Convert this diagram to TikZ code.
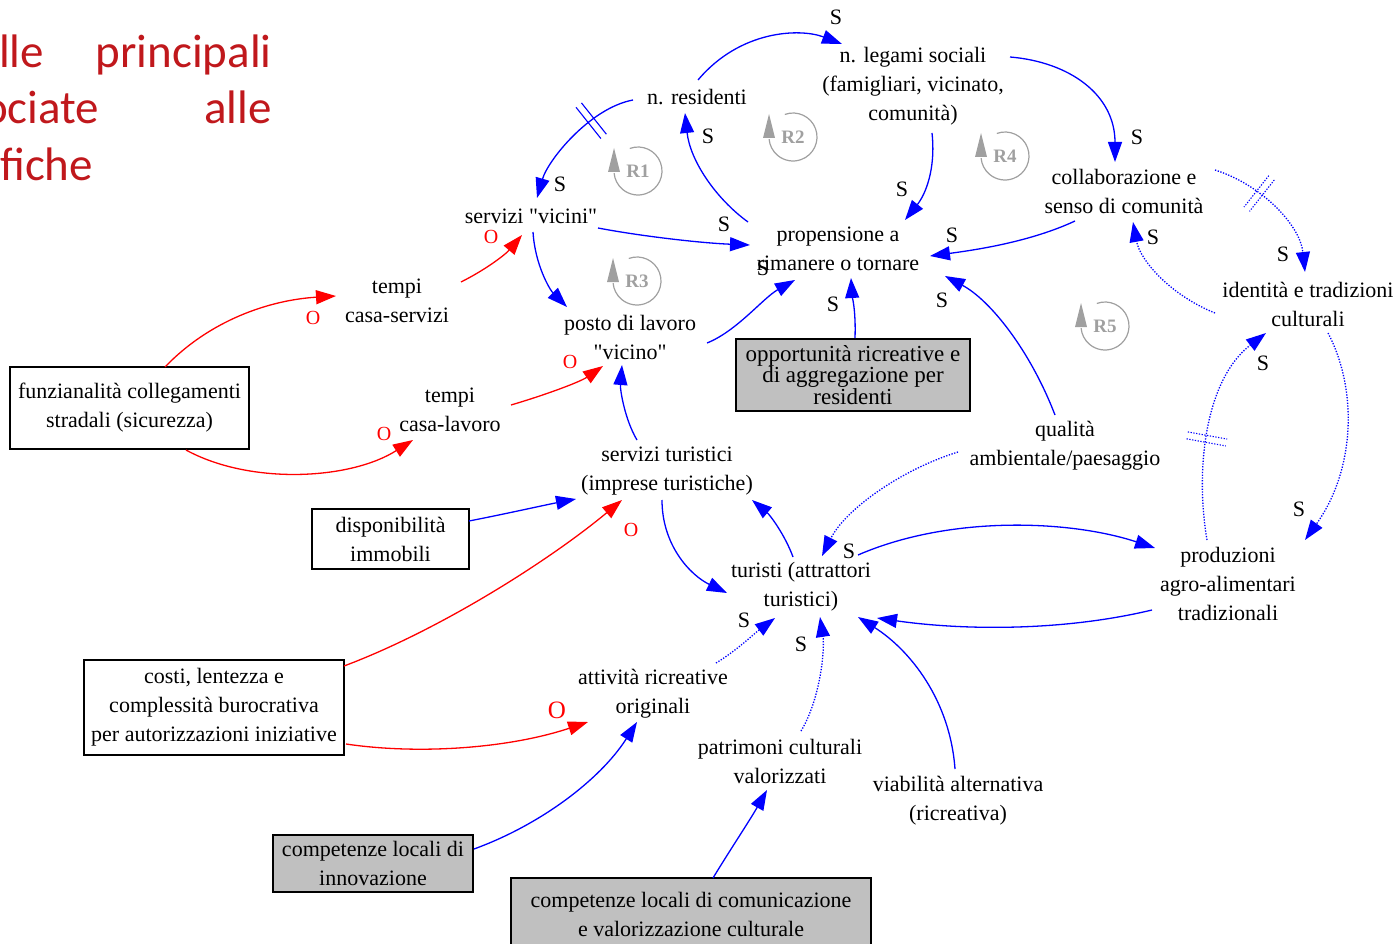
\documentclass[tikz,border=0pt]{standalone}
\usepackage{fontspec}
\setmainfont{Liberation Serif}[Ligatures=TeXOff]
\newfontfamily\titlefont{Carlito}
\usetikzlibrary{arrows.meta,calc,decorations.markings}
\definecolor{tred}{HTML}{C0181C}
\definecolor{boxgray}{HTML}{C0C0C0}
\definecolor{loopgray}{HTML}{A0A0A0}
\newcommand\loopsym[3]{%
  \coordinate (#1) at #2;
  \draw[loopgray, line width=1.2pt] ($(#1)+(110:24pt)$) arc[start angle=110,end angle=-175,radius=24pt];
  \fill[loopgray] ($(#1)+(-24,-23)$) -- ($(#1)+(-30,1)$) -- ($(#1)+(-18,1)$) -- cycle;
  \node[looplbl] (#1l) at (#1) {#3};
}
\newcommand\dq{\symbol{34}}
\begin{document}
\begin{tikzpicture}[x=1pt,y=-1pt,
  var/.style={align=center, font=\fontsize{22}{29}\selectfont, inner sep=2pt},
  varbox/.style={var, draw, line width=1.3pt},
  gbox/.style={varbox, fill=boxgray},
  title/.style={font=\titlefont\fontsize{47}{57}\selectfont, text=tred, inner sep=0pt},
  plink/.style={color=blue, line width=1.3pt, -{Triangle[length=20pt,width=14pt]}},
  nlink/.style={plink, color=red},
  dotl/.style={dash pattern=on 1.3pt off 1.5pt},
  slbl/.style={font=\fontsize{22}{22}\selectfont, inner sep=0pt},
  olbl/.style={font=\fontsize{20}{20}\selectfont, text=red, inner sep=0pt},
  looplbl/.style={font=\bfseries\fontsize{19}{19}\selectfont, text=loopgray, inner sep=0pt},
  dbl/.style={postaction={decorate, decoration={markings, mark=at position #1 with {\draw[-, solid, line width=1.1pt] (-3.5,-20)--(-3.5,20) (3.5,-20)--(3.5,20);}}}},
  dbld/.style={postaction={decorate, decoration={markings, mark=at position #1 with {\draw[-, dash pattern=on 1.3pt off 1.5pt, line width=1.1pt] (-3.5,-20)--(-3.5,20) (3.5,-20)--(3.5,20);}}}}
]
\useasboundingbox (0,0) rectangle (1400,944);
\clip (0,0) rectangle (1400,944);

% title fragment
\node[title, anchor=base west] (t1a) at (-1,68) {lle};
\node[title, anchor=base east] (t1b) at (272,68) {principali};
\node[title, anchor=base west] (t2a) at (-17,124) {ociate};
\node[title, anchor=base east] (t2b) at (272,124) {alle};
\node[title, anchor=base west] (t3) at (0,181) {fiche};

% variables
\node[var] (res) at (697,97) {n. residenti};
\node[var] (leg) at (913,86) {n. legami sociali\\(famigliari, vicinato,\\comunità)};
\node[var] (col) at (1124,191) {collaborazione e\\senso di comunità};
\node[var] (ide) at (1308,304) {identità e tradizioni\\culturali};
\node[var] (ser) at (531,216) {servizi \dq vicini\dq};
\node[var] (pro) at (838,249) {propensione a\\rimanere o tornare};
\node[var] (tcs) at (397,301) {tempi\\casa-servizi};
\node[var] (pos) at (630,337) {posto di lavoro\\\dq vicino\dq};
\node[gbox, minimum width=234, minimum height=72, font=\fontsize{23}{21.5}\selectfont] (opp) at (853,375) {opportunità ricreative e\\di aggregazione per\\residenti};
\node[varbox, minimum width=239, minimum height=82] (fun) at (129.5,408) {funzianalità collegamenti\\stradali (sicurezza)};
\node[var] (tcl) at (450,410) {tempi\\casa-lavoro};
\node[var] (qua) at (1065,446) {qualità\\ambientale/paesaggio};
\node[var] (stu) at (667,471) {servizi turistici\\(imprese turistiche)};
\node[varbox, minimum width=157, minimum height=60] (dis) at (390.5,539) {disponibilità\\immobili};
\node[var] (tur) at (801,587) {turisti (attrattori\\turistici)};
\node[var] (prd) at (1228,584) {produzioni\\agro-alimentari\\tradizionali};
\node[varbox, minimum width=260, minimum height=95] (cos) at (214,707.5) {costi, lentezza e\\complessità burocrativa\\per autorizzazioni iniziative};
\node[var] (att) at (653,694) {attività ricreative\\originali};
\node[var] (pat) at (780,761) {patrimoni culturali\\valorizzati};
\node[var] (via) at (958,801) {viabilità alternativa\\(ricreativa)};
\node[gbox, minimum width=200, minimum height=57] (cin) at (373,863.5) {competenze locali di\\innovazione};
\node[gbox, minimum width=360, minimum height=72] (ccv) at (691,914) {competenze locali di comunicazione\\e valorizzazione culturale};

% loops
\loopsym{r1}{(638,171)}{R1}
\loopsym{r2}{(793,137)}{R2}
\loopsym{r3}{(637,281)}{R3}
\loopsym{r4}{(1005,156)}{R4}
\loopsym{r5}{(1105,326)}{R5}

% links
\draw[plink, dbl=0.33] ($(res)+(-64,3)$) .. controls +(-43,8) and +(11,-38) .. ($(ser)+(6,-18)$);
\draw[plink] ($(ser)+(67,12)$) .. controls +(42,8) and +(-50,-2) .. ($(pro)+(-88,-4)$);
\draw[plink] ($(ser)+(2,16)$) .. controls +(2,33) and +(-17,-17) .. ($(pos)+(-63,-30)$);
\draw[plink] ($(pro)+(-90,-27)$) .. controls +(-33,-24) and +(5,47) .. ($(res)+(-12,16)$);
\draw[plink] ($(res)+(1,-17)$) .. controls +(42,-50) and +(-42,-16) .. ($(leg)+(-71,-42)$);
\draw[plink] ($(leg)+(19,47)$) .. controls +(4,37) and +(20,-25) .. ($(pro)+(67,-29)$);
\draw[plink] ($(leg)+(97,-29)$) .. controls +(60,5) and +(0,-67) .. ($(col)+(-9,-29)$);
\draw[plink] ($(col)+(-49,30)$) .. controls +(-45,21) and +(45,-6) .. ($(pro)+(92,7)$);
\draw[plink, dotl, dbld=0.35] ($(col)+(91,-21)$) .. controls +(47,15) and +(-5,-47) .. ($(ide)+(-3,-32)$);
\draw[plink, dotl] ($(ide)+(-93,9)$) .. controls +(-45,-18) and +(7,38) .. ($(col)+(9,31)$);
\draw[plink, dotl] ($(ide)+(20,29)$) .. controls +(30,57) and +(50,-70) .. ($(prd)+(77,-44)$);
\draw[plink, dotl, dbld=0.45] ($(prd)+(-21,-44)$) .. controls +(-12,-70) and +(-61,47) .. ($(ide)+(-42,29)$);
\draw[plink] ($(pos)+(77,6)$) .. controls +(30,-12) and +(-32,18) .. ($(pro)+(-43,31)$);
\draw[plink] ($(opp)+(2,-37)$) .. controls +(1,-28) and +(1,17) .. ($(pro)+(13,29)$);
\draw[plink] ($(qua)+(-10,-31)$) .. controls +(-25,-65) and +(45,24) .. ($(pro)+(107,27)$);
\draw[plink, dotl] ($(qua)+(-107,6)$) .. controls +(-58,18) and +(23,-46) .. ($(tur)+(21,-31)$);
\draw[nlink] ($(tcs)+(64,-19)$) .. controls +(24,-12) and +(-17,20) .. ($(ser)+(-9,19)$);
\draw[nlink] ($(fun)+(35.5,-41)$) .. controls +(45,-47) and +(-66,4) .. ($(tcs)+(-61,-5)$);
\draw[nlink] ($(fun)+(56.5,42)$) .. controls +(64,35) and +(-63,40) .. ($(tcl)+(-37,30)$);
\draw[nlink] ($(tcl)+(61,-5)$) .. controls +(34,-10) and +(-23,16) .. ($(pos)+(-27,29)$);
\draw[plink] ($(stu)+(-30,-31)$) .. controls +(-12,-20) and +(-2,25) .. ($(pos)+(-8,28)$);
\draw[plink] ($(dis)+(78.5,-18)$) .. controls +(36,-7) and +(-31,6) .. ($(stu)+(-91,28)$);
\draw[nlink] ($(cos)+(130,-41.5)$) .. controls +(96,-36) and +(-72,60) .. ($(stu)+(-45,29)$);
\draw[nlink] ($(cos)+(132,36.5)$) .. controls +(74,11) and +(-78,26) .. ($(att)+(-65,28)$);
\draw[plink] ($(stu)+(-5,29)$) .. controls +(0,45) and +(-37,-18) .. ($(tur)+(-74,6)$);
\draw[plink] ($(tur)+(-8,-30)$) .. controls +(-8,-22) and +(18,15) .. ($(stu)+(85,29)$);
\draw[plink] ($(tur)+(57,-32)$) .. controls +(92,-40) and +(-85,-28) .. ($(prd)+(-73,-36)$);
\draw[plink] ($(prd)+(-76,26)$) .. controls +(-92,22) and +(83,12) .. ($(tur)+(76,31)$);
\draw[plink, dotl] ($(att)+(63,-31)$) .. controls +(20,-12) and +(-20,15) .. ($(tur)+(-26,31)$);
\draw[plink, dotl] ($(pat)+(21,-30)$) .. controls +(19,-31) and +(5,33) .. ($(tur)+(19,30)$);
\draw[plink] ($(via)+(-3,-32)$) .. controls +(-5,-69) and +(52,33) .. ($(tur)+(57,30)$);
\draw[plink] ($(cin)+(101,-14.5)$) .. controls +(66,-24) and +(-37,58) .. ($(att)+(-16,28)$);
\draw[plink] ($(ccv)+(22,-36)$) .. controls +(17,-28) and +(-17,30) .. ($(pat)+(-13,29)$);

% polarity labels
\node[slbl] (s1) at (560,184) {S};
\node[slbl] (s2) at (724,224) {S};
\node[slbl] (s3) at (708,136) {S};
\node[slbl] (s4) at (836,17) {S};
\node[slbl] (s5) at (902,189) {S};
\node[slbl] (s6) at (1137,137) {S};
\node[slbl] (s7) at (952,235) {S};
\node[slbl] (s8) at (1283,254) {S};
\node[slbl] (s9) at (1153,237) {S};
\node[slbl] (s10) at (1299,509) {S};
\node[slbl] (s11) at (1263,363) {S};
\node[slbl] (s12) at (833,304) {S};
\node[slbl] (s13) at (942,300) {S};
\node[slbl] (s14) at (849,551) {S};
\node[slbl] (s15) at (744,620) {S};
\node[slbl] (s16) at (801,644) {S};
\node[slbl] (s17) at (763,268) {S};
\node[olbl] (o1) at (491,237) {O};
\node[olbl] (o2) at (313,318) {O};
\node[olbl] (o3) at (384,434) {O};
\node[olbl] (o4) at (570,362) {O};
\node[olbl] (o5) at (631,530) {O};
\node[olbl, font=\fontsize{25}{25}\selectfont] (o6) at (557,710) {O};
\end{tikzpicture}
\end{document}
